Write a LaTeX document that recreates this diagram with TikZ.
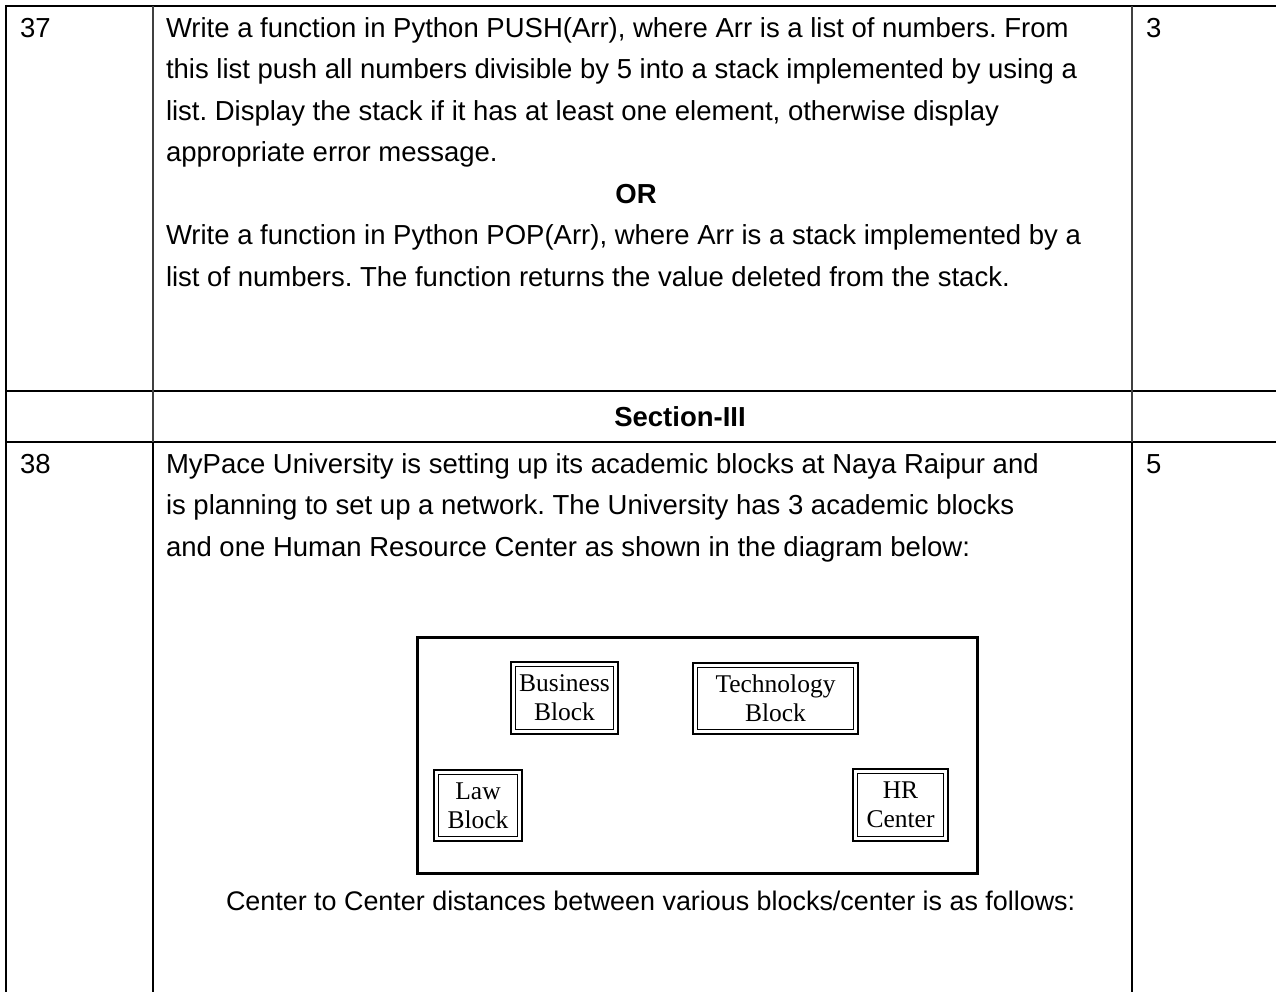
\documentclass[tikz,border=0pt]{standalone}
\usepackage{fontspec}
\setmainfont{Liberation Sans}
\newfontfamily\tnr{Liberation Serif}
\frenchspacing
\begin{document}
\begin{tikzpicture}[x=1pt,y=1pt,
  txt/.style={anchor=base west,inner sep=0pt,outer sep=0pt,font=\fontsize{27.5}{33}\selectfont},
  txtc/.style={anchor=base,inner sep=0pt,outer sep=0pt,font=\fontsize{27.5}{33}\selectfont\bfseries},
  grid/.style={line width=1.5pt,black},
  gridthin/.style={line width=1.2pt,black!75},
  gridthick/.style={line width=2.2pt,black},
  blk/.style={draw,line width=2.6pt,inner sep=0pt,outer sep=0pt,align=center,
    font=\tnr\fontsize{25.5}{29}\selectfont},
  inner/.style={line width=1.3pt}
]
\useasboundingbox (0,0) rectangle (1276,-992);
\fill[white] (0,0) rectangle (1276,-992);

% table rules
\draw[grid] (6,-6) -- (1276,-6);
\draw[gridthick] (6,-391) -- (1276,-391);
\draw[grid] (6,-442) -- (1276,-442);
\draw[line width=2pt] (6,-5) -- (6,-992);
\draw[gridthin] (153,-6) -- (153,-442);
\draw[gridthick] (153,-442) -- (153,-992);
\draw[gridthin] (1132,-6) -- (1132,-442);
\draw[gridthick] (1132,-442) -- (1132,-992);

% row 37
\node[txt] (n37) at (20,-37.5) {37};
\node[txt] (m37) at (1146,-37.5) {3};
\node[txt] (l1) at (166,-37.5) {Write a function in Python PUSH(Arr), where Arr is a list of numbers. From};
\node[txt] (l2) at (166,-79) {this list push all numbers divisible by 5 into a stack implemented by using a};
\node[txt] (l3) at (166,-120.5) {list. Display the stack if it has at least one element, otherwise display};
\node[txt] (l4) at (166,-162) {appropriate error message.};
\node[txtc] (or) at (636,-203.5) {OR};
\node[txt] (l5) at (166,-245) {Write a function in Python POP(Arr), where Arr is a stack implemented by a};
\node[txt] (l6) at (166,-286.5) {list of numbers. The function returns the value deleted from the stack.};

% section
\node[txtc] (sec) at (680,-426) {Section-III};

% row 38
\node[txt] (n38) at (20,-473) {38};
\node[txt] (m38) at (1146,-473) {5};
\node[txt] (k1) at (166,-473) {MyPace University is setting up its academic blocks at Naya Raipur and};
\node[txt] (k2) at (166,-514.5) {is planning to set up a network. The University has 3 academic blocks};
\node[txt] (k3) at (166,-556) {and one Human Resource Center as shown in the diagram below:};

% campus diagram
\draw[line width=3pt] (417,-637) rectangle (977,-873);
\node[blk,minimum width=107pt,minimum height=72pt] (bus) at (564.5,-698) {Business\\Block};
\node[blk,minimum width=165pt,minimum height=71pt] (tech) at (775.5,-698.5) {Technology\\Block};
\node[blk,minimum width=88pt,minimum height=71pt] (law) at (478,-805.5) {Law\\Block};
\node[blk,minimum width=95pt,minimum height=72pt] (hr) at (900.5,-805) {HR\\Center};
\foreach \b in {bus,tech,law,hr}{
  \draw[inner] ([shift={(4.5,-4.5)}]\b.north west) rectangle ([shift={(-4.5,4.5)}]\b.south east);
}

\node[txt,font=\fontsize{26.9}{33}\selectfont] (cc) at (226,-910) {Center to Center distances between various blocks/center is as follows:};
\end{tikzpicture}
\end{document}
